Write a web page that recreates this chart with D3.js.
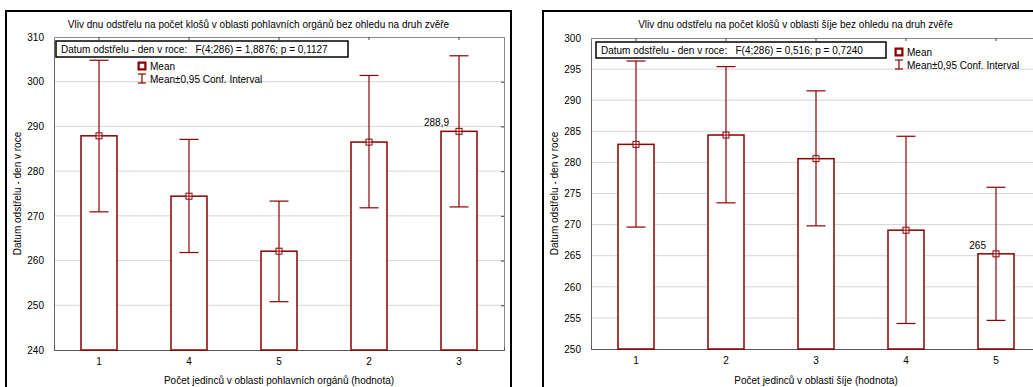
<!DOCTYPE html>
<html>
<head>
<meta charset="utf-8">
<script src="https://cdn.jsdelivr.net/npm/d3@7"></script>
<style>
  body { margin: 0; background: #fff; }
  text { font-family: "Liberation Sans", Arial, sans-serif; font-size: 10px; fill: #000; }
</style>
</head>
<body>
<div id="chart"></div>
<script>
// Left chart: pohlavní orgány
const leftCategories = ["1", "4", "5", "2", "3"];
const leftMeans = [287.9, 274.4, 262.1, 286.5, 288.9];
const leftUpper = [304.8, 287.1, 273.3, 301.4, 305.8];
const leftLower = [270.9, 261.8, 250.8, 271.8, 272.0];
const leftTicks = [240, 250, 260, 270, 280, 290, 300, 310];

// Right chart: šíje
const rightCategories = ["1", "2", "3", "4", "5"];
const rightMeans = [282.9, 284.4, 280.6, 269.1, 265.3];
const rightUpper = [296.3, 295.4, 291.5, 284.2, 276.0];
const rightLower = [269.6, 273.5, 269.8, 254.1, 254.6];
const rightTicks = [250, 255, 260, 265, 270, 275, 280, 285, 290, 295, 300];

const red = "#8b0000";

const svg = d3.select("#chart").append("svg")
    .attr("width", 1033)
    .attr("height", 387);

function drawPanel(p) {
    const g = svg.append("g");

    // outer frame
    g.append("rect")
        .attr("x", p.frameX).attr("y", 11)
        .attr("width", 505).attr("height", 420)
        .attr("fill", "none").attr("stroke", "#000").attr("stroke-width", 2);

    const x = d3.scaleBand()
        .domain(p.categories)
        .range([p.left, p.right]);

    const y = d3.scaleLinear()
        .domain([p.ticks[0], p.ticks[p.ticks.length - 1]])
        .range([p.bottom, p.top]);

    // grid
    g.append("g").selectAll("line")
        .data(p.ticks.slice(1, -1))
        .join("line")
        .attr("x1", p.left).attr("x2", p.right)
        .attr("y1", d => y(d)).attr("y2", d => y(d))
        .attr("stroke", "#d6d6d6");

    // axes
    g.append("g")
        .attr("transform", `translate(${p.left},0)`)
        .call(d3.axisLeft(y).tickValues(p.ticks).tickSize(0).tickPadding(10))
        .call(a => a.select(".domain").attr("stroke", "#666"))
        .call(a => a.selectAll("text").attr("font-size", null).attr("font-family", null));

    g.append("g")
        .attr("transform", `translate(${p.right},0)`)
        .call(d3.axisLeft(y).tickValues(p.ticks).tickSize(3).tickFormat(""))
        .call(a => a.select(".domain").attr("stroke", "#888"))
        .call(a => a.selectAll("line").attr("stroke", "#444"));

    g.append("g")
        .attr("transform", `translate(0,${p.bottom})`)
        .call(d3.axisTop(x).tickSize(3).tickFormat(""))
        .call(a => a.select(".domain").attr("stroke", "#555"))
        .call(a => a.selectAll("line").attr("stroke", "#444"));

    g.append("g")
        .attr("transform", `translate(0,${p.bottom})`)
        .call(d3.axisBottom(x).tickSize(0).tickPadding(8))
        .call(a => a.select(".domain").remove())
        .call(a => a.selectAll("text").attr("font-size", null).attr("font-family", null));

    g.append("g")
        .attr("transform", `translate(0,${p.top})`)
        .call(d3.axisBottom(x).tickSize(3).tickFormat(""))
        .call(a => a.select(".domain").attr("stroke", "#888"))
        .call(a => a.selectAll("line").attr("stroke", "#444"));

    const data = p.categories.map((c, i) => ({
        cat: c, mean: p.means[i], hi: p.upper[i], lo: p.lower[i]
    }));
    const bw = x.bandwidth() * 0.4;
    const cx = d => x(d.cat) + x.bandwidth() / 2;

    // bars
    g.append("g").selectAll("rect")
        .data(data)
        .join("rect")
        .attr("x", d => cx(d) - bw / 2)
        .attr("y", d => y(d.mean))
        .attr("width", bw)
        .attr("height", d => y(p.ticks[0]) - y(d.mean))
        .attr("fill", "#fff")
        .attr("stroke", red)
        .attr("stroke-width", 1.5);

    // error bars
    const eb = g.append("g").attr("stroke", red).attr("stroke-width", 1.2);
    eb.selectAll(".whisker").data(data).join("line")
        .attr("x1", cx).attr("x2", cx)
        .attr("y1", d => y(d.hi)).attr("y2", d => y(d.lo));
    eb.selectAll(".capHi").data(data).join("line")
        .attr("x1", d => cx(d) - 9.5).attr("x2", d => cx(d) + 9.5)
        .attr("y1", d => y(d.hi)).attr("y2", d => y(d.hi));
    eb.selectAll(".capLo").data(data).join("line")
        .attr("x1", d => cx(d) - 9.5).attr("x2", d => cx(d) + 9.5)
        .attr("y1", d => y(d.lo)).attr("y2", d => y(d.lo));

    // mean markers
    const mk = g.append("g").attr("stroke", red).attr("stroke-width", 1).attr("fill", "#fff");
    mk.selectAll("rect").data(data).join("rect")
        .attr("x", d => cx(d) - 3).attr("y", d => y(d.mean) - 3)
        .attr("width", 6).attr("height", 6);
    mk.selectAll(".h").data(data).join("line")
        .attr("x1", d => cx(d) - 3).attr("x2", d => cx(d) + 3)
        .attr("y1", d => y(d.mean)).attr("y2", d => y(d.mean));
    mk.selectAll(".v").data(data).join("line")
        .attr("x1", cx).attr("x2", cx)
        .attr("y1", d => y(d.mean) - 3).attr("y2", d => y(d.mean) + 3);

    // value label
    const lab = data[p.labelIndex];
    g.append("text")
        .attr("x", cx(lab) - 10)
        .attr("y", y(lab.mean) - 5)
        .attr("text-anchor", "end")
        .text(p.labelText);

    // titles
    g.append("text")
        .attr("x", p.frameX + 252.5).attr("y", 28)
        .attr("text-anchor", "middle")
        .text(p.title);

    g.append("text")
        .attr("text-anchor", "middle")
        .attr("transform", `translate(${p.frameX + 15},${(p.top + p.bottom) / 2}) rotate(-90)`)
        .text("Datum odstřelu - den v roce");

    g.append("text")
        .attr("x", (p.left + p.right) / 2).attr("y", 384)
        .attr("text-anchor", "middle")
        .text(p.xTitle);

    // statistics box
    g.append("rect")
        .attr("x", p.boxX).attr("y", p.boxY)
        .attr("width", p.boxW).attr("height", 16)
        .attr("fill", "#fff").attr("stroke", "#000").attr("stroke-width", 1.5);
    g.append("text")
        .attr("x", p.boxX + 5).attr("y", p.boxY + 12)
        .style("white-space", "pre")
        .text(p.stat);

    // legend
    const lg = g.append("g").attr("transform", `translate(${p.legX},${p.legY})`);
    lg.append("rect").attr("x", -4.5).attr("y", -4.5).attr("width", 9).attr("height", 9)
        .attr("fill", red);
    lg.append("rect").attr("x", -2).attr("y", -2).attr("width", 4).attr("height", 4)
        .attr("fill", "#fff").attr("stroke", "#fff").attr("stroke-width", 0.5);
    lg.append("text").attr("x", 8).attr("y", 3.5).text("Mean");
    const e = lg.append("g").attr("stroke", red).attr("stroke-width", 1.2);
    e.append("line").attr("x1", 0).attr("x2", 0).attr("y1", 8).attr("y2", 17);
    e.append("line").attr("x1", -4).attr("x2", 4).attr("y1", 8).attr("y2", 8);
    e.append("line").attr("x1", -4).attr("x2", 4).attr("y1", 17).attr("y2", 17);
    lg.append("text").attr("x", 8).attr("y", 16.5).text("Mean±0,95 Conf. Interval");
}

drawPanel({
    frameX: 6, left: 54, right: 504, top: 37, bottom: 350,
    categories: leftCategories, means: leftMeans, upper: leftUpper, lower: leftLower,
    ticks: leftTicks, labelIndex: 4, labelText: "288,9",
    title: "Vliv dnu odstřelu na počet klošů v oblasti pohlavních orgánů bez ohledu na druh zvěře",
    xTitle: "Počet jedinců v oblasti pohlavních orgánů (hodnota)",
    boxX: 56, boxY: 41, boxW: 292,
    stat: "Datum odstřelu - den v roce:   F(4;286) = 1,8876; p = 0,1127",
    legX: 142, legY: 66
});

drawPanel({
    frameX: 543, left: 591, right: 1041, top: 38, bottom: 349,
    categories: rightCategories, means: rightMeans, upper: rightUpper, lower: rightLower,
    ticks: rightTicks, labelIndex: 4, labelText: "265",
    title: "Vliv dnu odstřelu na počet klošů v oblasti šíje bez ohledu na druh zvěře",
    xTitle: "Počet jedinců v oblasti šíje (hodnota)",
    boxX: 596, boxY: 42, boxW: 290,
    stat: "Datum odstřelu - den v roce:   F(4;286) = 0,516; p = 0,7240",
    legX: 899, legY: 52
});
</script>
</body>
</html>
